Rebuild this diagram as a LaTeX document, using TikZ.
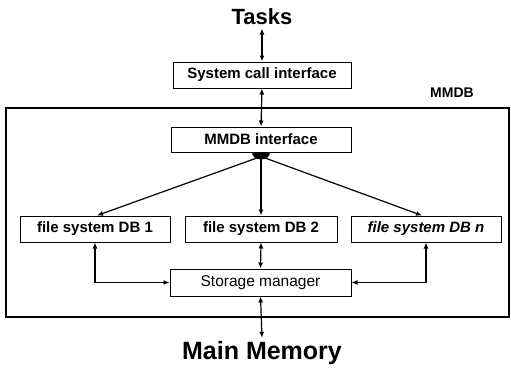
\documentclass[tikz,border=0pt]{standalone}
\usepackage{fontspec}
\setmainfont{Liberation Sans}
\usetikzlibrary{arrows.meta}
\begin{document}
\begin{tikzpicture}[x=1pt,y=1pt,
  box/.style={draw, line width=1pt, minimum height=26pt, inner sep=0pt,
    font=\bfseries\fontsize{15}{17}\selectfont},
  frame/.style={draw, line width=2pt},
  tip/.tip={Latex[length=6pt,width=5pt]},
  link/.style={line width=1.2pt, tip-tip},
  onelink/.style={line width=1.2pt, -tip},
  title/.style={font=\bfseries\fontsize{22}{24}\selectfont}
]
\useasboundingbox (0,0) rectangle (511,-375);

% outer and inner labels
\node[title] (tasks) at (262,-17) {Tasks};
\node[title, font=\bfseries\fontsize{25}{27}\selectfont] (mem) at (262,-353) {Main Memory};

% MMDB enclosure
\draw[frame] (6,-108) rectangle (509,-317);
\node[font=\bfseries\fontsize{14}{16}\selectfont] (mmdblabel) at (452,-93) {MMDB};

% boxes
\node[box, minimum width=178pt] (sys) at (262,-75) {System call interface};
\node[box, minimum width=180pt, minimum height=25pt] (mmdb) at (261,-139.5) {MMDB interface};
\node[box, minimum width=150pt] (db1) at (95,-229) {file system DB 1};
\node[box, minimum width=152pt] (db2) at (261,-229) {file system DB 2};
\node[box, minimum width=150pt] (dbn) at (426,-229) {\itshape file system DB n};
\node[box, minimum width=181pt, minimum height=27pt,
      font=\fontsize{15.5}{17}\selectfont] (store) at (260.5,-282.5) {Storage manager};

% fan-out hub under the MMDB interface
\fill (mmdb.south) ++(-9,0) arc[start angle=180, end angle=360, x radius=9pt, y radius=7pt] -- cycle;
\coordinate (hub) at ([yshift=-4pt]mmdb.south);

% connectors
\draw[link] (tasks.south) -- (sys.north);
\draw[link] (sys.south) -- (mmdb.north);
\draw[onelink] (hub) -- ([xshift=2pt]db1.north);
\draw[onelink] (hub) -- (db2.north);
\draw[onelink] (hub) -- ([xshift=-4pt]dbn.north);
\draw[link] (db1.south) |- (store.west);
\draw[link] (db2.south) -- (store.north);
\draw[link] (dbn.south) |- (store.east);
\draw[link] (store.south) -- (mem.north);
\end{tikzpicture}
\end{document}
